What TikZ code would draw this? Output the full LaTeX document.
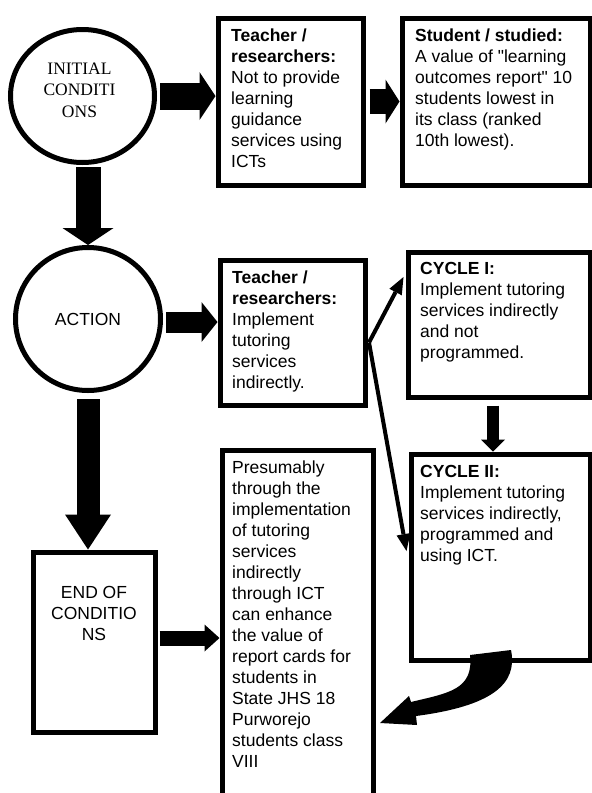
\documentclass[tikz,border=0pt]{standalone}
\usepackage{fontspec}
\setmainfont{Liberation Sans}[Ligatures=TeXOff]
\newfontfamily\timesf{Liberation Serif}
\usetikzlibrary{shapes.geometric,arrows.meta,calc}
\begin{document}
\begin{tikzpicture}[x=1pt,y=-1pt,
  box/.style={draw=black,line width=5pt,fill=white,inner sep=0pt,anchor=north west},
  oval/.style={draw=black,line width=5pt,ellipse,inner sep=0pt,fill=white},
  txt/.style={anchor=north west,inner sep=0pt,align=left,font=\fontsize{17.5}{21}\selectfont},
  ctxt/.style={inner sep=0pt,align=center,font=\fontsize{17.5}{21}\selectfont},
  blk/.style={draw=black,line width=#1},
  thinarrow/.style={draw=black,line width=4pt,-{Triangle[length=17pt,width=14pt,line width=0pt]}}
]
\useasboundingbox (0,0) rectangle (592,793);

% nodes
\node[oval,minimum width=144pt,minimum height=133pt] (c1) at (82.5,96) {};
\node[ctxt,font=\timesf\fontsize{17.5}{21.5}\selectfont] (c1t) at ($(c1.center)+(-3,-6)$) {INITIAL\\CONDITI\\ONS};
\node[oval,minimum width=145pt,minimum height=143pt,font=\fontsize{17.5}{21}\selectfont] (c2) at (88,319) {ACTION};

\node[box,minimum width=145pt,minimum height=167pt] (b1) at (215.5,15.5) {};
\node[box,minimum width=188pt,minimum height=167pt] (b2) at (399.5,15.5) {};
\node[box,minimum width=145pt,minimum height=145pt] (b3) at (217.5,257.5) {};
\node[box,minimum width=182pt,minimum height=145pt] (cy1) at (405.5,249.5) {};
\node[box,minimum width=179pt,minimum height=206pt] (cy2) at (408.5,451.5) {};
\node[box,minimum width=151pt,minimum height=380pt] (b4) at (219.5,447.5) {};
\node[box,minimum width=122pt,minimum height=180pt] (endb) at (30.5,549.5) {};

% texts
\node[txt] (b1t) at ($(b1.north west)+(15.5,13.5)$) {\textbf{Teacher /}\\\textbf{researchers:}\\Not to provide\\learning\\guidance\\services using\\ICTs};
\node[txt] (b2t) at ($(b2.north west)+(15.5,13.5)$) {\textbf{Student / studied:}\\A value of "learning\\outcomes report" 10\\students lowest in\\its class (ranked\\10th lowest).};
\node[txt] (b3t) at ($(b3.north west)+(14.5,13.5)$) {\textbf{Teacher /}\\\textbf{researchers:}\\Implement\\tutoring\\services\\indirectly.};
\node[txt] (cy1t) at ($(cy1.north west)+(14.5,12.5)$) {\textbf{CYCLE I:}\\Implement tutoring\\services indirectly\\and not\\programmed.};
\node[txt] (cy2t) at ($(cy2.north west)+(11.5,13.5)$) {\textbf{CYCLE II:}\\Implement tutoring\\services indirectly,\\programmed and\\using ICT.};
\node[txt] (b4t) at ($(b4.north west)+(12.5,13.5)$) {Presumably\\through the\\implementation\\of tutoring\\services\\indirectly\\through ICT\\can enhance\\the value of\\report cards for\\students in\\State JHS 18\\Purworejo\\students class\\VIII};
\node[ctxt] (endt) at ($(endb.north)+(0,63.5)$) {END OF\\CONDITIO\\NS};

% block arrows
\draw[blk=27pt,-{Triangle[length=16pt,width=48pt,line width=0pt]}] ([xshift=3pt]c1.east) -- (c1.east -| b1.west);
\draw[blk=25pt,shorten <=4pt,-{Triangle[length=14pt,width=44pt,line width=0pt]}] (b1.east) -- (b2.west);
\draw[blk=25pt,shorten <=2pt,-{Triangle[length=17pt,width=51pt,line width=0pt]}] (c2.north |- c1.south) -- (c2.north);
\draw[blk=23pt,shorten <=6pt,-{Triangle[length=35pt,width=46pt,line width=0pt]}] (c2.south) -- (c2.south |- endb.north);
\draw[blk=21pt,shorten <=3pt,-{Triangle[length=16pt,width=40pt,line width=0pt]}] ([yshift=-3pt]c2.east) -- ([yshift=-3pt]c2.east -| b3.west);
\draw[blk=15pt,shorten <=2pt,-{Triangle[length=15pt,width=27pt,line width=0pt]}] ([yshift=4pt]endb.east) -- ([yshift=4pt]endb.east -| b4.west);
\draw[blk=12pt,shorten <=6pt,-{Triangle[length=12pt,width=24pt,line width=0pt]}] ([xshift=-6pt]cy1.south) -- ([xshift=-6pt]cy1.south |- cy2.north);

% thin arrows
\coordinate (split) at ($(b3.east)+(1.5,10)$);
\coordinate (tipA) at ($(cy1.north west)+(-2,27.5)$);
\coordinate (tipB) at ($(cy2.north west)+(-2,99.5)$);
\draw[thinarrow] (split) -- (tipA);
\draw[thinarrow] (split) -- (tipB);

% curved thick arrow from CYCLE II to the conclusion box
\coordinate (cs1) at ($(cy2.south west)+(61.5,-7.5)$);
\coordinate (ctip) at ($(b4.east |- cy2.south)+(4.5,60.5)$);
\fill[black] (cs1) -- ++(41,-5) .. controls (518,684) and (492,706) .. (416,716) -- (417,725) -- (ctip) -- (409,696) -- (411,702) .. controls (448,693) and (474,690) .. (cs1) -- cycle;
\end{tikzpicture}
\end{document}
